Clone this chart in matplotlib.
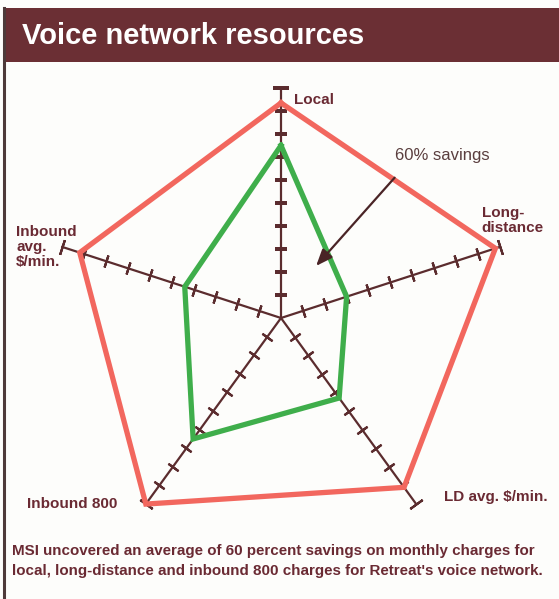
import numpy as np
import matplotlib
matplotlib.use("Agg")
import matplotlib.pyplot as plt
from matplotlib.patches import Rectangle
from matplotlib.lines import Line2D

# data
categories = ["Local", "Long-\ndistance", "LD avg. $/min.", "Inbound 800", "Inbound\navg.\n$/min."]
before = [9.35, 9.8, 9.1, 10.0, 9.2]   # red pentagon (old charges)
after = [7.5, 3.0, 4.3, 6.5, 4.4]      # green pentagon (after review)
ticks = [1, 2, 3, 4, 5, 6, 7, 8, 9]
axis_max = 10

title = "Voice network resources"
caption = ("MSI uncovered an average of 60 percent savings on monthly charges for\n"
           "local, long-distance and inbound 800 charges for Retreat's voice network.")

NARROW = ["Liberation Sans Narrow", "Liberation Sans", "DejaVu Sans"]
REGULAR = ["Liberation Sans", "DejaVu Sans"]
maroon = "#6b2f34"
brown = "#5b2c2e"
label_col = "#6a2a33"
red = "#f2675e"
green = "#3fae4b"

fig = plt.figure(figsize=(5.59, 5.99), dpi=100, facecolor="#fdfdfb")

# banner + left frame line
fig.patches.append(Rectangle((4 / 559, 1 - 62 / 599), 1, 54 / 599,
                             transform=fig.transFigure, facecolor=maroon,
                             edgecolor="none", zorder=0))
fig.lines.append(Line2D([4 / 559, 4 / 559], [0, 1 - 8 / 599],
                        transform=fig.transFigure, color="#4e3a3a", lw=2.2))
fig.text(22 / 559, 1 - 36 / 599, title, color="white", fontsize=21,
         fontweight="bold", family=NARROW, ha="left", va="center")

# polar axes centred on the spoke hub
R = 10.6
unit = 23.0
rad_px = R * unit
ax = fig.add_axes([(281 - rad_px) / 559, (281 - rad_px) / 599,
                   2 * rad_px / 559, 2 * rad_px / 599], projection="polar")
ax.set_theta_offset(np.pi / 2)
ax.set_theta_direction(-1)
ax.set_ylim(0, R)
ax.axis("off")

n = len(categories)
angles = np.arange(n) * 2 * np.pi / n

# spokes with cross ticks
for th in angles:
    deg = np.degrees(th)
    ax.plot([th, th], [0, axis_max], color=brown, lw=1.6, zorder=2)
    ax.plot([th] * len(ticks), ticks, ls="none", marker=(2, 2, 90 - deg),
            ms=9, mew=1.6, color=brown, zorder=2)
    ax.plot([th], [axis_max], ls="none", marker=(2, 2, 90 - deg),
            ms=11, mew=1.6, color=brown, zorder=2)

# red and green pentagons
th_closed = np.append(angles, angles[0])
ax.plot(th_closed, before + before[:1], color=red, lw=3.8,
        solid_joinstyle="miter", zorder=3)
ax.plot(th_closed, after + after[:1], color=green, lw=3.8,
        solid_joinstyle="miter", zorder=4)

# category labels
label_pos = [
    ((13, -12), "left", "center"),
    ((-18, 12), "left", "bottom"),
    ((28, 7), "left", "center"),
    ((-28, 0), "right", "center"),
    ((-46, 0), "left", "center"),
]
for th, lab, (off, ha, va) in zip(angles, categories, label_pos):
    ax.annotate(lab, xy=(th, axis_max), xytext=off, textcoords="offset pixels",
                ha=ha, va=va, fontsize=11, fontweight="bold", family=NARROW,
                color=label_col, linespacing=1.1, annotation_clip=False)

# savings call-out
ax.annotate("", xy=(np.radians(34), 2.73), xytext=(np.radians(39), 7.85),
            arrowprops=dict(arrowstyle="-|>,head_length=1.0,head_width=0.4",
                            color="#4a2426", lw=1.6, shrinkA=0, shrinkB=0),
            zorder=5)
fig.text(395 / 559, 1 - 155 / 599, "60% savings", fontsize=12,
         family=REGULAR, color="#5a3e3e", ha="left", va="center")

fig.text(12 / 559, 1 - 561 / 599, caption, fontsize=10.9, fontweight="bold",
         family=NARROW, color=label_col, ha="left", va="center",
         linespacing=1.6)

fig.savefig("out.png", dpi=100, facecolor=fig.get_facecolor())
